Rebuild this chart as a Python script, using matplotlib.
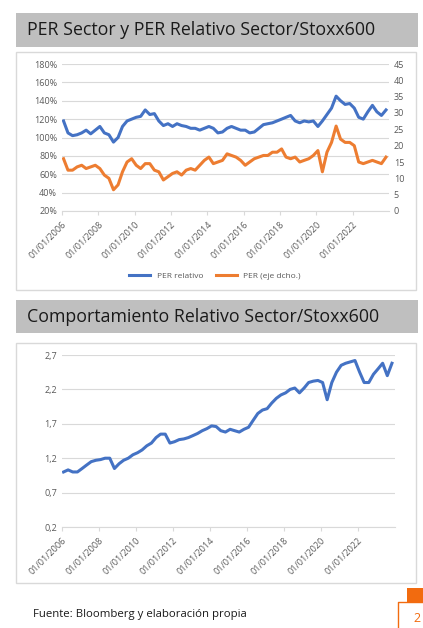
import matplotlib
matplotlib.use("Agg")
import matplotlib.pyplot as plt
from matplotlib.patches import Rectangle
from matplotlib.ticker import FuncFormatter
import pandas as pd

plt.rcParams['font.family'] = ['Open Sans', 'DejaVu Sans']

dates = pd.date_range("2006-01-15", periods=72, freq="3MS")
per_relativo = [118,105,102,103, 105,108,104,108, 112,105,103,95, 100,112,118,120,
                122,123,130,125, 126,118,113,115, 112,115,113,112, 110,110,108,110,
                112,110,105,106, 110,112,110,108, 108,105,106,110, 114,115,116,118,
                120,122,124,118, 116,118,117,118, 112,118,125,132, 145,140,136,137,
                132,122,120,128, 135,128,124,130]
per_sector = [16,12.5,12.5,13.5, 14,13,13.5,14, 13,11,10,6.5, 8,12,15,16,
              14,13,14.5,14.5, 12.5,12,9.5,10.5, 11.5,12,11,12.5, 13,12.5,14,15.5,
              16.5,14.5,15,15.5, 17.5,17,16.5,15.5, 14,15,16,16.5, 17,17,18,18,
              19,16.5,16,16.5, 15,15.5,16,17, 18.5,12,18,21, 26,22,21,21,
              20,15,14.5,15, 15.5,15,14.5,16.5]
rel_perf = [1.0,1.03,1.0,1.0, 1.05,1.1,1.15,1.17, 1.18,1.2,1.2,1.05, 1.12,1.17,1.2,1.25,
            1.28,1.32,1.38,1.42, 1.5,1.55,1.55,1.42, 1.44,1.47,1.48,1.5, 1.53,1.56,1.6,1.63,
            1.67,1.66,1.6,1.58, 1.62,1.6,1.58,1.62, 1.65,1.75,1.85,1.9, 1.92,2.0,2.07,2.12,
            2.15,2.2,2.22,2.15, 2.22,2.3,2.32,2.33, 2.3,2.05,2.3,2.45, 2.55,2.58,2.6,2.62,
            2.45,2.3,2.3,2.42, 2.5,2.58,2.4,2.58]
tick_years = list(range(2006, 2023, 2))

W, H = 423, 628
fig = plt.figure(figsize=(W/100, H/100), dpi=100)

def box(x0, y0, x1, y1, **kw):
    fig.patches.append(Rectangle((x0/W, 1-y1/H), (x1-x0)/W, (y1-y0)/H,
                                 transform=fig.transFigure, zorder=-10, **kw))

def ax_at(x0, y0, x1, y1):
    ax = fig.add_axes([x0/W, 1-y1/H, (x1-x0)/W, (y1-y0)/H])
    ax.patch.set_alpha(0)
    return ax

BLUE = "#4472C4"; ORANGE = "#ED7D31"; GRID = "#d9d9d9"; TXT = "#595959"

box(16, 13, 418, 47, facecolor="#bfbfbf", edgecolor="none")
fig.text(27/W, 1-30/H, "PER Sector y PER Relativo Sector/Stoxx600", fontsize=12.8, va="center", color="#1a1a1a")
box(16, 52, 416, 290, facecolor="white", edgecolor="#d9d9d9", lw=1)
box(16, 300, 418, 333, facecolor="#bfbfbf", edgecolor="none")
fig.text(27/W, 1-317/H, "Comportamiento Relativo Sector/Stoxx600", fontsize=12.8, va="center", color="#1a1a1a")
box(16, 343, 416, 583, facecolor="white", edgecolor="#d9d9d9", lw=1)

xlim = (pd.Timestamp("2006-01-01"), pd.Timestamp("2023-12-31"))
ticks = [pd.Timestamp(f"{y}-01-01") for y in tick_years]
labels = [f"01/01/{y}" for y in tick_years]

def style(ax):
    for s in ax.spines.values():
        s.set_visible(False)
    ax.spines['bottom'].set_visible(True)
    ax.spines['bottom'].set_color(GRID)
    ax.grid(axis='y', color=GRID, lw=0.8)
    ax.set_axisbelow(True)
    ax.set_xlim(*xlim)
    ax.set_xticks(ticks)
    ax.set_xticklabels(labels, rotation=45, ha='right', rotation_mode='anchor', fontsize=6.5, color=TXT)
    ax.tick_params(axis='x', length=3, color=GRID)
    ax.tick_params(axis='y', length=0, labelsize=6.5, labelcolor=TXT)

ax1 = ax_at(62, 64, 389, 211)
style(ax1)
l1, = ax1.plot(dates, per_relativo, color=BLUE, lw=2.2, label="PER relativo")
ax1.set_ylim(20, 180)
ax1.set_yticks(range(20, 181, 20))
ax1.yaxis.set_major_formatter(FuncFormatter(lambda v, p: f"{int(v)}%"))
ax2 = ax1.twinx()
ax2.patch.set_alpha(0)
for s in ax2.spines.values():
    s.set_visible(False)
l2, = ax2.plot(dates, per_sector, color=ORANGE, lw=2.2, label="PER (eje dcho.)")
ax2.set_ylim(0, 45)
ax2.set_yticks(range(0, 46, 5))
ax2.tick_params(axis='y', length=0, labelsize=6.5, labelcolor=TXT)
fig.legend([l1, l2], ["PER relativo", "PER (eje dcho.)"], loc='center', bbox_to_anchor=(215/W, 1-276/H),
           ncol=2, frameon=False, fontsize=6, labelcolor=TXT, handlelength=2.5, columnspacing=1.5)

ax3 = ax_at(62, 355, 395, 527)
style(ax3)
ax3.plot(dates, rel_perf, color=BLUE, lw=2.2)
ax3.set_ylim(0.2, 2.7)
ax3.set_yticks([0.2, 0.7, 1.2, 1.7, 2.2, 2.7])
ax3.yaxis.set_major_formatter(FuncFormatter(lambda v, p: f"{v:.1f}".replace('.', ',')))

fig.text(33/W, 1-615/H, "Fuente: Bloomberg y elaboración propia", fontsize=8.2, va="center", color="#1a1a1a")
box(407, 588, 423, 602, facecolor="#F26B0F", edgecolor="none")
fig.add_artist(plt.Line2D([398/W, 398/W, 423/W], [1-628/H, 1-602/H, 1-602/H],
                          transform=fig.transFigure, color="#F26B0F", lw=1))
fig.text(417/W, 1-619/H, "2", fontsize=9, va="center", ha="center", color="#F26B0F")

fig.savefig("out.png", dpi=100)
